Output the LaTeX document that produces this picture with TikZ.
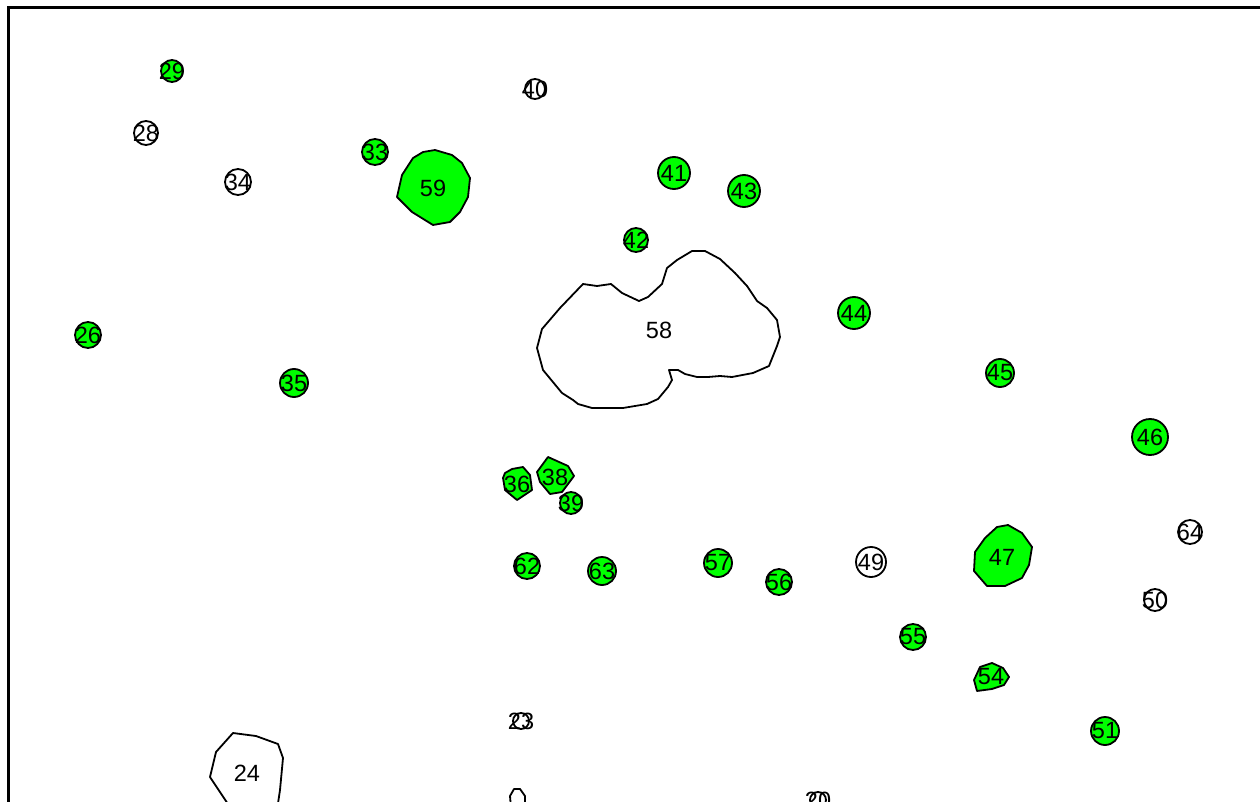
\documentclass[tikz,border=0pt]{standalone}
\usepackage{fontspec}
\setmainfont{Liberation Sans}

\begin{document}
\begin{tikzpicture}[x=1pt,y=-1pt,
  greenblob/.style={draw=black, fill=blobgreen, line width=1.8pt, line join=round},
  whiteblob/.style={draw=black, fill=white, line width=1.8pt, line join=round},
  blobnum/.style={font=\fontsize{23.5}{28}\selectfont, inner sep=0pt}]

% === Colors ===
\definecolor{blobgreen}{RGB}{0,255,0}

% === Page and frame ===
\useasboundingbox (0,0) rectangle (1260,802);
\clip (0,0) rectangle (1260,802);
\draw[line width=3pt] (8,8) rectangle (1300,850);

% === Large region 58 (white) ===
\draw[whiteblob]
  (583,284) -- (597,286) -- (611,284) -- (622,293) -- (639,301) -- (648,297)
  -- (662,284) -- (667,268) -- (677,260) -- (692,251) -- (705,251) -- (720,259)
  -- (735,273) -- (747,286) -- (757,301) -- (767,308) -- (777,320) -- (780,337)
  -- (777,346) -- (769,366) -- (753,373) -- (732,377) -- (720,376) -- (708,377)
  -- (697,377) -- (685,374) -- (678,370) -- (669,370) -- (672,380) -- (668,387)
  -- (658,399) -- (647,404) -- (623,408) -- (592,408) -- (578,404) -- (573,400)
  -- (562,393) -- (543,370) -- (537,348) -- (542,329) -- (560,308) -- cycle;
\node[blobnum] (n58) at (659,330) {58};

% === Large region 24 (white) ===
\draw[whiteblob]
  (233,733) -- (256,736) -- (278,744) -- (283,758) -- (280,790) -- (277,810)
  -- (232,810) -- (210,777) -- (216,752) -- cycle;
\node[blobnum] (n24) at (247,773) {24};

% === Large green regions ===
\draw[greenblob]
  (435,150) -- (452,155) -- (462,163) -- (470,178) -- (468,197) -- (460,212)
  -- (450,222) -- (433,225) -- (412,212) -- (397,197) -- (402,175) -- (413,158)
  -- (423,152) -- cycle;
\node[blobnum] (n59) at (433,188) {59};

\draw[greenblob]
  (997,527) -- (1008,525) -- (1022,533) -- (1032,547) -- (1029,565) -- (1022,578)
  -- (1005,586) -- (987,586) -- (974,571) -- (975,552) -- (985,538) -- cycle;
\node[blobnum] (n47) at (1002,557) {47};

\draw[greenblob]
  (505,473) -- (512,469) -- (523,467) -- (530,475) -- (532,490) -- (517,500)
  -- (505,490) -- (503,478) -- cycle;
\node[blobnum] (n36) at (517,484) {36};

\draw[greenblob]
  (548,457) -- (568,466) -- (574,476) -- (562,492) -- (550,494) -- (540,482)
  -- (537,472) -- cycle;
\node[blobnum] (n38) at (555,477) {38};

\draw[greenblob]
  (980,667) -- (992,663) -- (1003,668) -- (1009,677) -- (1004,685) -- (992,689)
  -- (977,691) -- (974,680) -- cycle;
\node[blobnum] (n54) at (991,677) {54};

% === Small green regions ===
\foreach \x/\y/\r/\n in {
  172/71/11/29, 375/152/13/33, 674/173/16/41, 744/191/16/43,
  636/240/12/42, 854/313/16/44, 1000/373/14/45, 1150/437/18/46,
  88/335/13/26, 294/383/14/35, 571/503/11/39, 527/566/13/62,
  602/571/14/63, 718/563/14/57, 779/582/13/56, 913/637/13/55,
  1105/731/14/51
}{
  \draw[greenblob] (\x,\y) circle (\r);
  \node[blobnum] (n\n) at (\x,\y) {\n};
}

% === Small white regions ===
\foreach \x/\y/\r/\n in {
  146/133/12/28, 238/182/13/34, 535/89/10/40, 871/562/15/49,
  1190/532/12/64, 1155/600/11/50, 521/721/8/23, 818/800/8/20
}{
  \draw[whiteblob] (\x,\y) circle (\r);
  \node[blobnum] (n\n) at (\x,\y) {\n};
}

\draw[whiteblob]
  (511,808) -- (510,796) -- (514,789) -- (520,789) -- (525,796) -- (525,808);

\end{tikzpicture}
\end{document}
